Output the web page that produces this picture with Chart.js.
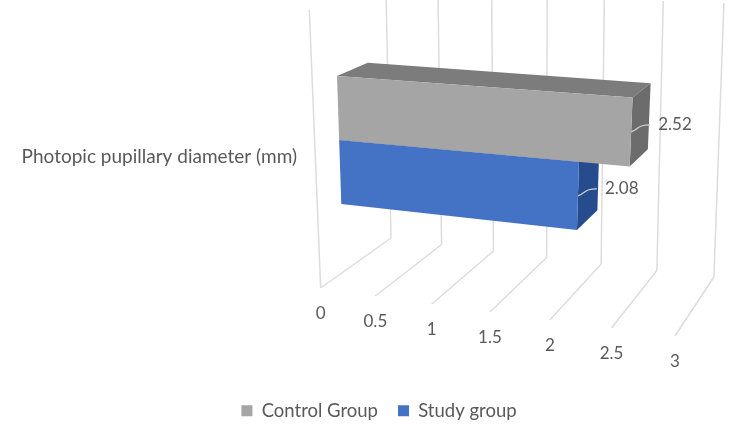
<!DOCTYPE html>
<html>
<head>
<meta charset="utf-8">
<style>
    html, body { margin: 0; padding: 0; background: #fff; }
    #wrap { width: 744px; height: 429px; }
</style>
<script src="https://cdn.jsdelivr.net/npm/chart.js@4/dist/chart.umd.min.js"></script>
</head>
<body>
<div id="wrap"><canvas id="grafico"></canvas></div>
<script>
//DATA
var categories = ["Photopic pupillary diameter (mm)"];
var seriesNames = ["Control Group", "Study group"];
var controlValues = [2.52];
var studyValues = [2.08];
var xTicks = [0, 0.5, 1, 1.5, 2, 2.5, 3];

var textColor = "#595959";
var gridColor = "#dcdcdc";
var fontName = "Lato";
var fontSize = 17;
var vanish = { x: 1052, y: -232 }; //WHERE THE DEPTH LINES MEET
var barDepth = 0.043;

//FRONT PLANE OF THE BARS. v = AXIS VALUE, w = 0 TOP OF THE BARS, 1 BOTTOM
function front(v, w) {
    return {
        x: 337 + 4.3 * w + v * (117.3 - 4 * w),
        y: 76 + 128 * w + v * (8.5 + 4 * w)
    };
}

//SAME POINT PUSHED BACK TOWARDS THE VANISHING POINT
function back(p) {
    return {
        x: p.x + (vanish.x - p.x) * barDepth,
        y: p.y + (vanish.y - p.y) * barDepth
    };
}

function poly(ctx, points, color) {
    ctx.beginPath();
    ctx.moveTo(points[0].x, points[0].y);
    for (var i = 1; i < points.length; i++) {
        ctx.lineTo(points[i].x, points[i].y);
    }
    ctx.closePath();
    ctx.fillStyle = color;
    ctx.fill();
}

function line(ctx, a, b) {
    ctx.moveTo(a.x, a.y);
    ctx.lineTo(b.x, b.y);
}

//WALLS AND FLOOR OF THE 3D BOX
function floorFront(v) { return { x: 320.7 + 107.6 * v + 3.49 * v * v, y: 288 + 16 * v }; }
function floorBack(v) { return { x: 391 + 99.9 * v + 2.58 * v * v, y: 238 + 13 * v }; }
function wallTop(v) { return { x: 386 + 102.2 * v + 3.48 * v * v, y: -9 + 4 * v }; }

var box3d = {
    id: "box3d",
    beforeDatasetsDraw: function (chart) {
        var ctx = chart.ctx;
        ctx.save();
        ctx.strokeStyle = gridColor;
        ctx.lineWidth = 1.5;
        ctx.beginPath();
        line(ctx, floorFront(0), { x: 309.3, y: 10 });
        chart.scales.x.ticks.forEach(function (tick) {
            line(ctx, floorFront(tick.value), floorBack(tick.value));
            line(ctx, floorBack(tick.value), wallTop(tick.value));
        });
        ctx.stroke();
        ctx.restore();
    },
    //THE BAR IS DRAWN HERE AS THREE FACES INSTEAD OF THE FLAT RECTANGLE
    beforeDatasetDraw: function (chart, args) {
        var ctx = chart.ctx;
        var metas = chart.getSortedVisibleDatasetMetas();
        var bandTop = metas[0].data[0].y - metas[0].data[0].height / 2;
        var bandHeight = metas[0].data[0].height * metas.length;
        var colors = args.meta.controller.getDataset();
        args.meta.data.forEach(function (bar) {
            var v = chart.scales.x.getValueForPixel(bar.x);
            var w0 = (bar.y - bar.height / 2 - bandTop) / bandHeight;
            var w1 = (bar.y + bar.height / 2 - bandTop) / bandHeight;
            var a = front(0, w0), b = front(v, w0), c = front(v, w1), d = front(0, w1);
            poly(ctx, [a, back(a), back(b), b], colors.topColor);
            poly(ctx, [b, back(b), back(c), c], colors.sideColor);
            poly(ctx, [a, b, c, d], colors.backgroundColor);
        });
        return false;
    },
    afterDatasetsDraw: function (chart) {
        var ctx = chart.ctx;
        var metas = chart.getSortedVisibleDatasetMetas();
        var bandTop = metas[0].data[0].y - metas[0].data[0].height / 2;
        var bandHeight = metas[0].data[0].height * metas.length;
        ctx.save();
        ctx.font = fontSize + "px " + fontName;
        ctx.fillStyle = textColor;
        ctx.textBaseline = "middle";

        //AXIS LABELS FOLLOW THE FRONT EDGE OF THE FLOOR
        ctx.textAlign = "center";
        chart.scales.x.ticks.forEach(function (tick) {
            ctx.fillText(tick.label, floorFront(tick.value).x, floorFront(tick.value).y + 26);
        });

        //VALUE LABELS WITH THEIR LEADER LINES
        ctx.textAlign = "left";
        metas.forEach(function (meta) {
            var bar = meta.data[0];
            var v = chart.scales.x.getValueForPixel(bar.x);
            var p = front(v, (bar.y - bandTop) / bandHeight);
            ctx.strokeStyle = "#cfcfcf";
            ctx.lineWidth = 1.3;
            ctx.beginPath();
            ctx.moveTo(p.x, p.y);
            ctx.bezierCurveTo(p.x + 8, p.y - 3, p.x + 6, p.y - 7, p.x + 19, p.y - 7);
            ctx.stroke();
            ctx.fillText(meta.controller.getDataset().data[0].toFixed(2), p.x + 27, p.y - 7);
        });
        ctx.restore();
    }
};

new Chart(document.getElementById("grafico"), {
    type: "bar",
    plugins: [box3d],
    data: {
        labels: categories,
        datasets: [
            { label: seriesNames[0], data: controlValues, backgroundColor: "#a5a5a5", topColor: "#7c7c7c", sideColor: "#6c6c6c" },
            { label: seriesNames[1], data: studyValues, backgroundColor: "#4472c4", topColor: "#335aa0", sideColor: "#264c8e" }
        ]
    },
    options: {
        indexAxis: "y",
        responsive: true,
        maintainAspectRatio: false,
        animation: false,
        layout: { padding: { left: 14, right: 0, top: 60, bottom: -1 } },
        datasets: { bar: { barPercentage: 1, categoryPercentage: 2 / 3 } },
        scales: {
            x: {
                min: 0,
                max: 3,
                afterBuildTicks: function (scale) {
                    scale.ticks = xTicks.map(function (v) { return { value: v }; });
                },
                afterFit: function (scale) { scale.height = 127; },
                ticks: { display: false, callback: function (v) { return String(v); } },
                grid: { display: false },
                border: { display: false }
            },
            y: {
                afterFit: function (scale) { scale.width = 286; },
                ticks: { color: textColor, padding: 3, font: { family: fontName, size: 19 } },
                grid: { display: false, drawTicks: false },
                border: { display: false }
            }
        },
        plugins: {
            tooltip: { enabled: false },
            legend: {
                position: "bottom",
                labels: {
                    color: textColor,
                    boxWidth: 11,
                    boxHeight: 11,
                    padding: 20,
                    font: { family: fontName, size: 18.5 }
                }
            }
        }
    }
});
</script>
</body>
</html>
